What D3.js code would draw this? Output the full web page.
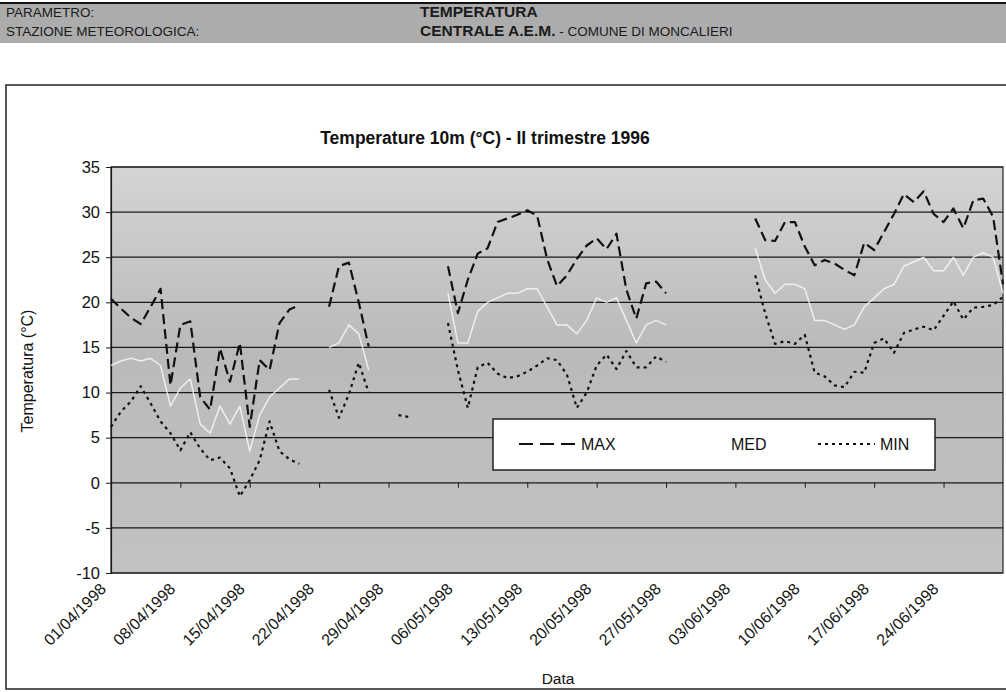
<!DOCTYPE html>
<html>
<head>
<meta charset="utf-8">
<script src="https://cdn.jsdelivr.net/npm/d3@7/dist/d3.min.js"></script>
<style>
	body { margin: 0; background: #fff; }
	svg { display: block; font-family: 'Liberation Sans', Arial, sans-serif; }
</style>
</head>
<body>
<svg id="chart"></svg>
<script>
/* global d3 */

// Days 01/04/1998 .. 30/06/1998, one value per day (null = no data).
const startDate = '01/04/1998';
const endDate = '30/06/1998';

const maxValues = [
	20.4, 19.3, 18.3, 17.6, 19.5, 21.5, 10.8,
	17.5, 17.9, 9.5, 8.1, 14.9, 11.2, 15.5,
	6.2, 13.6, 12.5, 17.7, 19.2, 19.7, null,
	null, 19.5, 24.0, 24.4, 20.0, 15.1, null,
	null, null, null, null, null, null, 24.0,
	18.8, 22.5, 25.4, 26.0, 28.9, 29.3, 29.7,
	30.2, 29.6, 24.8, 21.8, 23.0, 24.8, 26.3,
	27.1, 25.9, 27.6, 21.4, 18.2, 22.1, 22.3,
	21.0, null, null, null, null, null, null,
	null, null, 29.3, 26.9, 26.8, 28.9, 28.9,
	26.2, 24.1, 24.7, 24.3, 23.6, 23.0, 26.6,
	25.8, 27.8, 29.8, 32.0, 31.1, 32.3, 29.8,
	28.9, 30.4, 28.2, 31.3, 31.5, 29.5, 22.0,
];

const medValues = [
	13.0, 13.5, 13.8, 13.5, 13.8, 13.0, 8.5,
	10.5, 11.5, 6.5, 5.5, 8.5, 6.5, 8.5,
	3.5, 7.5, 9.5, 10.5, 11.5, 11.5, null,
	null, 15.0, 15.5, 17.5, 16.5, 12.5, null,
	null, null, null, null, null, null, 21.0,
	15.5, 15.5, 19.0, 20.0, 20.5, 21.0, 21.0,
	21.5, 21.5, 19.5, 17.5, 17.5, 16.5, 18.0,
	20.5, 20.0, 20.5, 18.0, 15.5, 17.5, 18.0,
	17.5, null, null, null, null, null, null,
	null, null, 26.0, 22.5, 21.0, 22.0, 22.0,
	21.5, 18.0, 18.0, 17.5, 17.0, 17.5, 19.5,
	20.5, 21.5, 22.0, 24.0, 24.5, 25.0, 23.5,
	23.5, 25.0, 23.0, 25.0, 25.5, 25.0, 21.0,
];

const minValues = [
	6.2, 7.9, 9.0, 10.7, 8.8, 6.8, 5.5,
	3.6, 5.6, 3.8, 2.5, 2.8, 1.6, -1.5,
	0.3, 2.5, 6.8, 3.5, 2.6, 2.1, null,
	null, 10.3, 7.2, 9.8, 13.3, 10.0, null,
	null, 7.5, 7.3, null, null, null, 17.7,
	12.5, 8.3, 12.8, 13.3, 12.1, 11.6, 11.8,
	12.3, 13.0, 13.8, 13.6, 12.0, 8.3, 10.0,
	13.0, 14.2, 12.6, 14.6, 12.8, 12.8, 14.0,
	13.4, null, null, null, null, null, null,
	null, null, 23.0, 18.8, 15.4, 15.7, 15.4,
	16.4, 12.2, 11.8, 10.8, 10.6, 12.3, 12.2,
	15.5, 16.0, 14.4, 16.6, 17.0, 17.3, 16.9,
	18.5, 20.1, 18.1, 19.4, 19.5, 19.7, 20.6,
];

const tickLabels = [
	'01/04/1998', '08/04/1998', '15/04/1998', '22/04/1998', '29/04/1998',
	'06/05/1998', '13/05/1998', '20/05/1998', '27/05/1998', '03/06/1998',
	'10/06/1998', '17/06/1998', '24/06/1998',
];
const yTicks = [ -10, -5, 0, 5, 10, 15, 20, 25, 30, 35 ];

const seriesNames = [ 'MAX', 'MED', 'MIN' ];

/**
 * Scanned report page with the temperature chart.
 */
class TemperatureChart {
	constructor( selector ) {
		this.config = {
			width: 1006,
			height: 692,
			plot: { left: 111, right: 1003, top: 167, bottom: 573 },
		};
		this.parse = d3.timeParse( '%d/%m/%Y' );
		this.svg = d3.select( selector )
			.attr( 'width', this.config.width )
			.attr( 'height', this.config.height );

		this.setupScales();
		this.renderHeader();
		this.renderFrame();
		this.renderAxes();
		this.renderSeries();
		this.renderLegend();
	}

	setupScales() {
		const { plot } = this.config;
		this.start = this.parse( startDate );
		this.xScale = d3.scaleTime()
			.domain( [ this.start, this.parse( endDate ) ] )
			.range( [ plot.left, plot.right ] );
		this.yScale = d3.scaleLinear()
			.domain( [ -10, 35 ] )
			.range( [ plot.bottom, plot.top ] );
	}

	/**
	 * Grey band with the station heading.
	 */
	renderHeader() {
		const g = this.svg.append( 'g' );
		g.append( 'rect' )
			.attr( 'x', 0 ).attr( 'y', 3 )
			.attr( 'width', 1006 ).attr( 'height', 40 )
			.attr( 'fill', '#acacac' );
		g.append( 'line' )
			.attr( 'x1', 0 ).attr( 'x2', 1006 )
			.attr( 'y1', 3 ).attr( 'y2', 3 )
			.attr( 'stroke', '#111' ).attr( 'stroke-width', 2 );

		const left = g.append( 'g' ).attr( 'font-size', 13.5 ).attr( 'fill', '#1a1a1a' );
		left.append( 'text' ).attr( 'x', 6 ).attr( 'y', 17 ).text( 'PARAMETRO:' );
		left.append( 'text' ).attr( 'x', 6 ).attr( 'y', 36 ).text( 'STAZIONE METEOROLOGICA:' );

		g.append( 'text' )
			.attr( 'x', 420 ).attr( 'y', 17 )
			.attr( 'font-size', 15.5 ).attr( 'font-weight', 'bold' )
			.attr( 'fill', '#1a1a1a' )
			.text( 'TEMPERATURA' );

		const station = g.append( 'text' )
			.attr( 'x', 420 ).attr( 'y', 36 )
			.attr( 'fill', '#1a1a1a' );
		station.append( 'tspan' )
			.attr( 'font-size', 15.5 ).attr( 'font-weight', 'bold' )
			.text( 'CENTRALE A.E.M.' );
		station.append( 'tspan' )
			.attr( 'font-size', 13.5 )
			.text( ' - COMUNE DI MONCALIERI' );
	}

	/**
	 * Outer chart border, plot background and title.
	 */
	renderFrame() {
		const { plot } = this.config;

		this.svg.append( 'rect' )
			.attr( 'x', 6 ).attr( 'y', 85 )
			.attr( 'width', 1010 ).attr( 'height', 604 )
			.attr( 'fill', '#fff' )
			.attr( 'stroke', '#222' ).attr( 'stroke-width', 1.5 );

		const grad = this.svg.append( 'defs' ).append( 'linearGradient' )
			.attr( 'id', 'plotBg' )
			.attr( 'x1', 0 ).attr( 'x2', 0 ).attr( 'y1', 0 ).attr( 'y2', 1 );
		grad.append( 'stop' ).attr( 'offset', 0 ).attr( 'stop-color', '#d4d4d4' );
		grad.append( 'stop' ).attr( 'offset', 0.45 ).attr( 'stop-color', '#bababa' );
		grad.append( 'stop' ).attr( 'offset', 1 ).attr( 'stop-color', '#c2c2c2' );

		this.svg.append( 'rect' )
			.attr( 'x', plot.left ).attr( 'y', plot.top )
			.attr( 'width', plot.right - plot.left )
			.attr( 'height', plot.bottom - plot.top )
			.attr( 'fill', 'url(#plotBg)' )
			.attr( 'stroke', '#222' ).attr( 'stroke-width', 1.2 );

		this.svg.append( 'text' )
			.attr( 'x', 485 ).attr( 'y', 144 )
			.attr( 'text-anchor', 'middle' )
			.attr( 'font-size', 17.5 ).attr( 'font-weight', 'bold' )
			.attr( 'fill', '#111' )
			.text( 'Temperature 10m (°C) - II trimestre 1996' );
	}

	renderAxes() {
		const { plot } = this.config;

		// Horizontal gridlines
		this.svg.append( 'g' )
			.selectAll( 'line' )
			.data( yTicks )
			.join( 'line' )
			.attr( 'x1', plot.left ).attr( 'x2', plot.right )
			.attr( 'y1', ( d ) => this.yScale( d ) )
			.attr( 'y2', ( d ) => this.yScale( d ) )
			.attr( 'stroke', '#1a1a1a' ).attr( 'stroke-width', 1.2 );

		const yAxis = this.svg.append( 'g' )
			.attr( 'transform', `translate(${ plot.left },0)` )
			.call( d3.axisLeft( this.yScale )
				.tickValues( yTicks )
				.tickFormat( ( d ) => String( d ) )
				.tickSize( 5 )
				.tickPadding( 6 ) );
		yAxis.select( '.domain' ).attr( 'stroke', '#1a1a1a' ).attr( 'stroke-width', 1.2 );
		yAxis.selectAll( '.tick line' ).attr( 'stroke', '#1a1a1a' );
		yAxis.selectAll( 'text' )
			.attr( 'font-size', 16.5 ).attr( 'fill', '#111' )
			.attr( 'font-family', 'Liberation Sans, Arial, sans-serif' );

		this.svg.append( 'text' )
			.attr( 'transform', `translate(33,371) rotate(-90)` )
			.attr( 'text-anchor', 'middle' )
			.attr( 'font-size', 16 ).attr( 'fill', '#111' )
			.text( 'Temperatura (°C)' );

		// The category axis crosses at 0; weekly ticks sit on that line.
		const tickDates = tickLabels.map( ( t ) => this.parse( t ) );
		const xAxis = this.svg.append( 'g' )
			.attr( 'transform', `translate(0,${ this.yScale( 0 ) })` )
			.call( d3.axisBottom( this.xScale ).tickValues( tickDates ).tickSize( 5 ).tickFormat( '' ) );
		xAxis.select( '.domain' ).remove();
		xAxis.selectAll( '.tick line' ).attr( 'stroke', '#1a1a1a' );

		this.svg.append( 'g' )
			.selectAll( 'text' )
			.data( tickDates )
			.join( 'text' )
			.attr( 'transform', ( d ) => `translate(${ this.xScale( d ) - 4 },${ plot.bottom + 17 }) rotate(-45)` )
			.attr( 'text-anchor', 'end' )
			.attr( 'font-size', 16 ).attr( 'fill', '#111' )
			.text( ( d, i ) => tickLabels[ i ] );

		this.svg.append( 'text' )
			.attr( 'x', 558 ).attr( 'y', 684 )
			.attr( 'text-anchor', 'middle' )
			.attr( 'font-size', 15.5 ).attr( 'fill', '#111' )
			.text( 'Data' );
	}

	/**
	 * Line style for each series.
	 *
	 * @param {string} name - Series name
	 */
	styleFor( name ) {
		return {
			MAX: { stroke: '#111', width: 2.2, dash: '10,5', opacity: 1 },
			MED: { stroke: '#fff', width: 1.5, dash: null, opacity: 0.75 },
			MIN: { stroke: '#111', width: 2.2, dash: '3,4', opacity: 1 },
		}[ name ];
	}

	renderSeries() {
		const line = d3.line()
			.defined( ( d ) => d !== null )
			.x( ( d, i ) => this.xScale( d3.timeDay.offset( this.start, i ) ) )
			.y( ( d ) => this.yScale( d ) );

		const data = { MAX: maxValues, MED: medValues, MIN: minValues };

		// MED first so the black series lie on top of it.
		[ 'MED', 'MIN', 'MAX' ].forEach( ( name ) => {
			const s = this.styleFor( name );
			this.svg.append( 'path' )
				.datum( data[ name ] )
				.attr( 'd', line )
				.attr( 'fill', 'none' )
				.attr( 'stroke', s.stroke )
				.attr( 'stroke-width', s.width )
				.attr( 'stroke-opacity', s.opacity )
				.attr( 'stroke-dasharray', s.dash )
				.attr( 'stroke-linejoin', 'round' );
		} );
	}

	renderLegend() {
		const g = this.svg.append( 'g' );
		g.append( 'rect' )
			.attr( 'x', 493 ).attr( 'y', 419 )
			.attr( 'width', 442 ).attr( 'height', 51 )
			.attr( 'fill', '#fff' )
			.attr( 'stroke', '#222' ).attr( 'stroke-width', 1.5 );

		const slots = [ 519, 669, 818 ];
		seriesNames.forEach( ( name, i ) => {
			const s = this.styleFor( name );
			g.append( 'line' )
				.attr( 'x1', slots[ i ] ).attr( 'x2', slots[ i ] + 57 )
				.attr( 'y1', 444 ).attr( 'y2', 444 )
				.attr( 'stroke', s.stroke )
				.attr( 'stroke-width', 2 )
				.attr( 'stroke-dasharray', name === 'MAX' ? '14,7' : s.dash );
			g.append( 'text' )
				.attr( 'x', slots[ i ] + 62 ).attr( 'y', 450 )
				.attr( 'font-size', 16 ).attr( 'fill', '#111' )
				.text( name );
		} );
	}
}

new TemperatureChart( '#chart' );
</script>
</body>
</html>
